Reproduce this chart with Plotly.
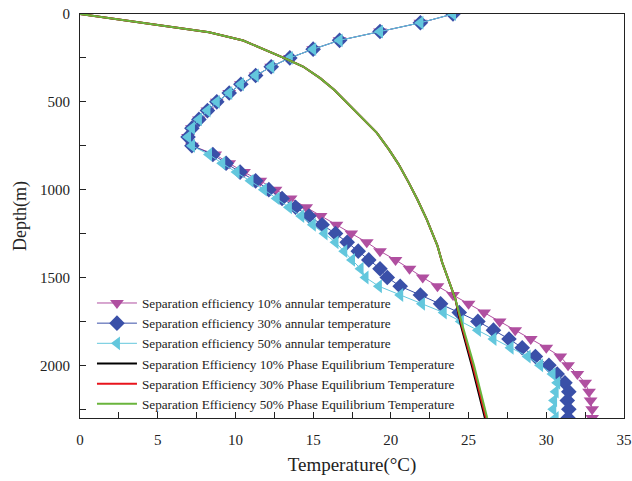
import plotly.graph_objects as go

# ---------------- data ----------------
depth_annular = list(range(0, 2301, 50))

common_top = [24.0, 21.9, 19.3, 16.7, 15.0, 13.5, 12.3, 11.3, 10.35, 9.6,
              8.8, 8.2, 7.65, 7.2, 6.95, 7.2]

temp_10 = common_top + [8.7, 9.6, 10.55, 11.6, 12.58, 13.55, 14.55, 15.48, 16.5, 17.45,
                        18.45, 19.3, 20.3, 21.2, 22.05, 23.0, 24.0, 25.0, 26.0, 27.0,
                        28.0, 29.0, 30.0, 30.9, 31.4, 32.0, 32.5, 32.75, 32.85, 32.95, 32.95]
temp_30 = common_top + [8.55, 9.4, 10.3, 11.3, 12.15, 13.0, 13.87, 14.73, 15.58, 16.44,
                        17.19, 17.9, 18.58, 19.3, 19.77, 20.6, 21.9, 23.2, 24.4, 25.6,
                        26.6, 27.6, 28.45, 29.3, 30.17, 30.7, 31.2, 31.45, 31.35, 31.45, 31.4]
temp_50 = common_top + [8.3, 9.15, 10.07, 10.97, 11.83, 12.65, 13.44, 14.23, 14.98, 15.73,
                        16.44, 17.0, 17.5, 18.05, 18.37, 19.23, 20.6, 22.0, 23.4, 24.5,
                        25.6, 26.6, 27.7, 28.8, 29.6, 30.4, 30.7, 30.6, 30.5, 30.45, 30.6]

depth_phase = [0, 40, 75, 104, 151, 223, 257, 299, 365, 431, 526, 601, 677, 771,
               856, 960, 1055, 1168, 1244, 1320, 1414, 1490, 1622, 1770, 2000, 2300]
phase_10 = [0, 3.2, 6.1, 8.3, 10.5, 12.45, 13.3, 14.35, 15.45, 16.35, 17.4, 18.25,
            19.1, 19.87, 20.5, 21.15, 21.7, 22.3, 22.65, 23.0, 23.3, 23.62, 24.15,
            24.5, 25.2, 26.05]
phase_30 = [0, 3.2, 6.1, 8.3, 10.5, 12.45, 13.3, 14.35, 15.45, 16.35, 17.4, 18.25,
            19.1, 19.87, 20.5, 21.15, 21.7, 22.3, 22.65, 23.0, 23.3, 23.62, 24.15,
            24.55, 25.27, 26.12]
phase_50 = [0, 3.2, 6.1, 8.3, 10.5, 12.45, 13.3, 14.35, 15.45, 16.35, 17.4, 18.25,
            19.1, 19.87, 20.5, 21.15, 21.7, 22.3, 22.65, 23.0, 23.3, 23.62, 24.15,
            24.6, 25.35, 26.2]

names = [
    "Separation efficiency 10% annular temperature",
    "Separation efficiency 30% annular temperature",
    "Separation efficiency 50% annular temperature",
    "Separation Efficiency 10% Phase Equilibrium Temperature",
    "Separation Efficiency 30% Phase Equilibrium Temperature",
    "Separation Efficiency 50% Phase Equilibrium Temperature",
]

# ---------------- figure ----------------
fig = go.Figure()

marker_series = [
    (temp_10, names[0], "#B04FA0", "triangle-down"),
    (temp_30, names[1], "#3A50A8", "diamond"),
    (temp_50, names[2], "#63C7DD", "triangle-left"),
]
for temps, nm, col, sym in marker_series:
    fig.add_trace(go.Scatter(
        x=temps, y=depth_annular, name=nm, mode="lines+markers",
        line=dict(color=col, width=1),
        marker=dict(symbol=sym, size=12, color=col, line=dict(width=0)),
    ))

line_series = [
    (phase_10, names[3], "#000000"),
    (phase_30, names[4], "#E8141C"),
    (phase_50, names[5], "#6AB43C"),
]
for temps, nm, col in line_series:
    fig.add_trace(go.Scatter(
        x=temps, y=depth_phase, name=nm, mode="lines",
        line=dict(color=col, width=2),
    ))

font_family = "Liberation Serif"

fig.update_layout(
    width=632, height=481,
    margin=dict(l=80, r=8, t=14, b=63, autoexpand=False),
    paper_bgcolor="white", plot_bgcolor="white",
    font=dict(family=font_family, color="#222222", size=15),
    showlegend=True,
    legend=dict(
        x=0.022, y=0.322, xanchor="left", yanchor="top",
        bgcolor="rgba(0,0,0,0)", borderwidth=0,
        font=dict(family=font_family, size=13.2, color="#222222"),
        tracegroupgap=0, itemwidth=40,
    ),
    xaxis=dict(
        range=[0, 35], dtick=5, tick0=0, automargin=False,
        showgrid=False, zeroline=False,
        showline=True, linecolor="#222222", linewidth=1, mirror=True,
        ticks="inside", ticklen=6, tickcolor="#222222",
        ticklabelstandoff=8,
        minor=dict(dtick=2.5, ticks="inside", ticklen=6, tickcolor="#222222"),
        title=dict(text="Temperature(°C)", font=dict(family=font_family, size=19), standoff=10),
    ),
    yaxis=dict(
        range=[2300, 0], dtick=500, tick0=0, automargin=False,
        showgrid=False, zeroline=False,
        showline=True, linecolor="#222222", linewidth=1, mirror=True,
        ticks="inside", ticklen=6, tickcolor="#222222",
        ticklabelstandoff=6,
        minor=dict(dtick=250, ticks="inside", ticklen=6, tickcolor="#222222"),
        title=dict(text="Depth(m)", font=dict(family=font_family, size=18), standoff=8),
    ),
)

fig.write_html("out.html")
